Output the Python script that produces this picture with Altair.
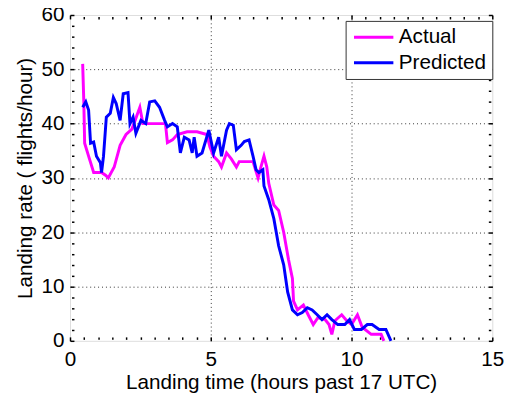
import altair as alt
import pandas as pd

# Actual landing rate (flights/hour) vs landing time (hours past 17 UTC)
actual_t = [0.45, 0.49, 0.52, 0.66, 0.84, 1.12, 1.26, 1.36, 1.57, 1.78, 1.99, 2.20, 2.34, 2.48,
            2.59, 2.76, 3.39, 3.46, 3.64, 3.81, 4.16, 4.51, 4.86, 4.97, 5.10, 5.28, 5.38, 5.56,
            5.73, 5.91, 6.01, 6.50, 6.68, 6.78, 6.89, 6.99, 7.06, 7.24, 7.41, 7.59, 7.76, 7.90,
            7.94, 8.08, 8.29, 8.46, 8.64, 8.81, 9.06, 9.20, 9.30, 9.41, 9.65, 9.83, 10.00, 10.21,
            10.38, 10.70, 11.05, 11.15]
actual_rate = [51, 44, 36.4, 34, 31, 31, 30.5, 30, 32, 36, 38, 39, 41, 43,
               40, 40, 40, 36.5, 37, 38, 38.5, 38.5, 38, 35.7, 34, 33, 32, 34.6,
               33.5, 32, 33, 33, 30, 32, 34, 32, 29, 25, 24, 20, 15, 11.5,
               7.3, 5.7, 6.6, 4.8, 3, 4.3, 3.9, 3, 1.2, 3.7, 4.8, 3.7, 3, 4.8,
               2.5, 1.2, 1.2, 0]

# Predicted landing rate
pred_t = [0.45, 0.56, 0.66, 0.73, 0.84, 0.94, 1.08, 1.12, 1.19, 1.29, 1.43, 1.54, 1.64, 1.78,
          1.89, 2.06, 2.13, 2.24, 2.34, 2.52, 2.69, 2.83, 3.01, 3.18, 3.36, 3.46, 3.64, 3.81,
          3.92, 4.06, 4.23, 4.34, 4.41, 4.51, 4.69, 4.93, 5.10, 5.28, 5.38, 5.56, 5.66, 5.80,
          5.91, 6.08, 6.19, 6.36, 6.50, 6.61, 6.71, 6.85, 6.89, 7.06, 7.24, 7.41, 7.59, 7.73,
          7.90, 8.08, 8.25, 8.43, 8.60, 8.78, 8.95, 9.13, 9.30, 9.51, 9.76, 9.93, 10.10, 10.35,
          10.56, 10.73, 10.98, 11.22, 11.40]
pred_rate = [43, 44, 42.5, 36.4, 36.6, 34, 32.8, 31, 34, 41.2, 41.9, 44.8, 43.7, 40.6,
             45.5, 45.7, 40, 41.2, 38.2, 40.6, 40, 44, 44.2, 43, 40.6, 39.4, 40, 39.4,
             34.6, 37.5, 37, 34.6, 37.5, 34, 34.6, 38.8, 34.6, 37.5, 34, 38.8, 40, 39.7,
             35.2, 36, 36.7, 37, 34, 31.5, 31, 31.5, 28.5, 26, 22.5, 17.5, 14, 9,
             5.7, 4.8, 5.2, 6.1, 5.7, 4.8, 3.9, 4.8, 3.9, 3, 3, 3.9, 2.1, 2.1,
             3, 3, 2.1, 2.1, 0]

series_names = ["Actual", "Predicted"]
series_colors = ["#FF00FF", "#0000FF"]

rows = []
for i, (t, r) in enumerate(zip(actual_t, actual_rate)):
    rows.append({"t": t, "rate": r, "series": "Actual", "i": i})
for i, (t, r) in enumerate(zip(pred_t, pred_rate)):
    rows.append({"t": t, "rate": r, "series": "Predicted", "i": i})
df = pd.DataFrame(rows)

FONT = "Liberation Sans"
x_ticks = [i * 0.5 for i in range(31)]
y_ticks = list(range(0, 61, 2))

xs = alt.Scale(domain=[0, 15], nice=False, zero=False)
ys = alt.Scale(domain=[0, 60], nice=False, zero=False)

tick_size_x = {"condition": {"test": "datum.value % 5 == 0", "value": 4}, "value": 2.5}
tick_size_y = {"condition": {"test": "datum.value % 10 == 0", "value": 4}, "value": 2.5}

x_axis = alt.Axis(
    orient="bottom", values=x_ticks, offset=-4, domain=False,
    tickSize=tick_size_x, tickWidth=1.5, tickColor="black",
    labelExpr="datum.value % 5 == 0 ? format(datum.value, 'd') : ''",
    labelFlush=False, labelOverlap=False, labelPadding=8,
    labelFont=FONT, labelFontSize=21, labelColor="black",
    grid=True,
    gridOpacity={"condition": {"test": "datum.value % 5 == 0 && datum.value > 0 && datum.value < 15", "value": 1}, "value": 0},
    gridDash=[1, 3], gridColor="#333", gridWidth=1,
    title="Landing time (hours past 17 UTC)", titleFont=FONT, titleFontSize=21,
    titleFontWeight="normal", titleColor="black", titlePadding=2,
)
y_axis = alt.Axis(
    orient="left", values=y_ticks, offset=-4, domain=False,
    tickSize=tick_size_y, tickWidth=1.5, tickColor="black",
    labelExpr="datum.value % 10 == 0 ? format(datum.value, 'd') : ''",
    labelOverlap=False, labelFlush=False, labelPadding=6,
    labelFont=FONT, labelFontSize=21, labelColor="black",
    grid=True,
    gridOpacity={"condition": {"test": "datum.value % 10 == 0 && datum.value > 0 && datum.value < 60", "value": 1}, "value": 0},
    gridDash=[1, 3], gridColor="#333", gridWidth=1,
    title="Landing rate ( flights/hour)", titleFont=FONT, titleFontSize=21,
    titleFontWeight="normal", titleColor="black", titlePadding=6,
)
x_axis_top = alt.Axis(
    orient="top", values=x_ticks, offset=-4, domain=False, labels=False, grid=False,
    tickSize=tick_size_x, tickWidth=1.5, tickColor="black", title=None,
)
y_axis_right = alt.Axis(
    orient="right", values=y_ticks, offset=-4, domain=False, labels=False, grid=False,
    tickSize=tick_size_y, tickWidth=1.5, tickColor="black", title=None,
)

lines = alt.Chart(df).mark_line(strokeWidth=3).encode(
    x=alt.X("t:Q", scale=xs, axis=x_axis),
    y=alt.Y("rate:Q", scale=ys, axis=y_axis),
    color=alt.Color(
        "series:N",
        scale=alt.Scale(domain=series_names, range=series_colors),
        legend=alt.Legend(
            title=None, orient="none", legendX=280, legendY=6,
            symbolType="M-1,0H4", symbolSize=256, symbolStrokeWidth=3,
            labelFont=FONT, labelFontSize=21, labelColor="black", labelOffset=27,
            padding=6, rowPadding=4, strokeColor="#333", fillColor="white",
            cornerRadius=0,
        ),
    ),
    order=alt.Order("i:Q"),
)

frame_ticks = alt.Chart(df).mark_line(opacity=0).encode(
    x=alt.X("t:Q", scale=xs, axis=x_axis_top),
    y=alt.Y("rate:Q", scale=ys, axis=y_axis_right),
    detail="series:N",
)

chart = alt.layer(lines, frame_ticks).resolve_axis(
    x="independent", y="independent"
).properties(
    width=429, height=331,
    autosize=alt.AutoSizeParams(type="none"),
    padding={"left": 63, "top": 4, "right": 19, "bottom": 57},
).configure_view(
    stroke="black", strokeWidth=3
).configure(background="white")

chart.save("out.html", embed_options={"renderer": "svg", "actions": False})
